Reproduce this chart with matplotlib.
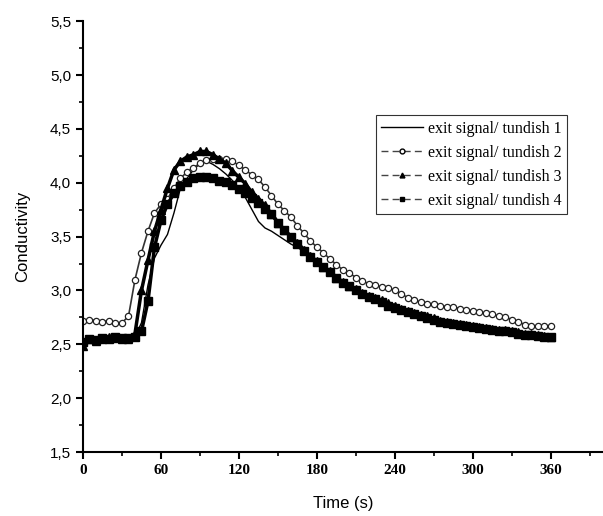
import numpy as np
import matplotlib
matplotlib.use("Agg")
from matplotlib import pyplot as plt
from matplotlib.ticker import MultipleLocator, FuncFormatter

# time axis, one reading every 5 s
time_s = np.arange(0, 361, 5)

tundish1 = [2.55, 2.54, 2.55, 2.56, 2.55, 2.56, 2.56, 2.57, 2.57, 2.70, 3.05, 3.30, 3.42, 3.52, 3.72,
            3.95, 4.04, 4.12, 4.18, 4.20, 4.17, 4.13, 4.08, 4.02, 3.95, 3.86, 3.75, 3.64, 3.58, 3.55,
            3.51, 3.47, 3.43, 3.40, 3.36, 3.31, 3.27, 3.22, 3.17, 3.12, 3.08, 3.04, 3.00, 2.97, 2.94,
            2.92, 2.90, 2.87, 2.85, 2.82, 2.80, 2.78, 2.76, 2.74, 2.73, 2.71, 2.70, 2.69, 2.68, 2.67,
            2.66, 2.65, 2.64, 2.63, 2.62, 2.62, 2.61, 2.60, 2.59, 2.59, 2.59, 2.58, 2.58]
tundish2 = [2.72, 2.73, 2.72, 2.71, 2.72, 2.70, 2.70, 2.76, 3.10, 3.35, 3.55, 3.72, 3.80, 3.85, 3.95,
            4.04, 4.10, 4.14, 4.18, 4.21, 4.22, 4.22, 4.22, 4.20, 4.16, 4.12, 4.07, 4.03, 3.96, 3.88,
            3.80, 3.74, 3.68, 3.60, 3.53, 3.46, 3.40, 3.35, 3.29, 3.24, 3.19, 3.16, 3.12, 3.09, 3.06,
            3.05, 3.03, 3.02, 3.00, 2.97, 2.93, 2.91, 2.89, 2.87, 2.87, 2.86, 2.85, 2.85, 2.83, 2.82,
            2.81, 2.80, 2.79, 2.78, 2.76, 2.75, 2.73, 2.71, 2.68, 2.67, 2.67, 2.67, 2.67]
tundish3 = [2.48, 2.55, 2.53, 2.55, 2.57, 2.56, 2.55, 2.55, 2.60, 3.00, 3.28, 3.55, 3.75, 3.95, 4.12,
            4.20, 4.24, 4.26, 4.29, 4.29, 4.26, 4.22, 4.18, 4.11, 4.05, 3.99, 3.91, 3.85, 3.79, 3.71,
            3.63, 3.56, 3.50, 3.44, 3.38, 3.32, 3.27, 3.22, 3.18, 3.12, 3.08, 3.04, 3.01, 2.98, 2.95,
            2.93, 2.91, 2.88, 2.86, 2.83, 2.81, 2.79, 2.77, 2.76, 2.74, 2.72, 2.71, 2.70, 2.69, 2.68,
            2.67, 2.66, 2.65, 2.64, 2.63, 2.63, 2.62, 2.61, 2.60, 2.60, 2.59, 2.58, 2.57]
tundish4 = [2.52, 2.55, 2.54, 2.56, 2.55, 2.57, 2.56, 2.56, 2.57, 2.62, 2.90, 3.40, 3.65, 3.80, 3.90,
            3.97, 4.01, 4.04, 4.05, 4.05, 4.04, 4.02, 4.01, 3.98, 3.94, 3.90, 3.86, 3.81, 3.76, 3.71,
            3.63, 3.56, 3.50, 3.43, 3.37, 3.31, 3.26, 3.22, 3.17, 3.12, 3.07, 3.04, 3.00, 2.97, 2.94,
            2.92, 2.89, 2.86, 2.84, 2.82, 2.80, 2.78, 2.76, 2.74, 2.73, 2.71, 2.70, 2.69, 2.68, 2.67,
            2.66, 2.65, 2.64, 2.63, 2.62, 2.62, 2.61, 2.60, 2.59, 2.59, 2.58, 2.57, 2.57]

labels = ["exit signal/ tundish 1", "exit signal/ tundish 2",
          "exit signal/ tundish 3", "exit signal/ tundish 4"]

fig = plt.figure(figsize=(6.03, 5.16), dpi=100)
ax = fig.add_axes([0.1376, 0.124, 0.8624, 0.835])

ax.plot(time_s, tundish1, "-", color="black", lw=1.0, label=labels[0])
ax.plot(time_s, tundish2, "-", color="#333333", lw=1.2, marker="o", ms=4.5,
        mfc="white", mec="#222222", mew=0.9, label=labels[1])
ax.plot(time_s, tundish3, "-", color="black", lw=2.5, marker="^", ms=6,
        mfc="black", mec="black", label=labels[2])
ax.plot(time_s, tundish4, "-", color="black", lw=2.5, marker="s", ms=5.5,
        mfc="black", mec="black", label=labels[3])

ax.set_xlim(0, 400)
ax.set_ylim(1.5, 5.5)
ax.spines["top"].set_visible(False)
ax.spines["right"].set_visible(False)
ax.spines["left"].set_linewidth(1.5)
ax.spines["bottom"].set_linewidth(1.5)

ax.xaxis.set_major_locator(MultipleLocator(60))
ax.xaxis.set_minor_locator(MultipleLocator(30))
ax.yaxis.set_major_locator(MultipleLocator(0.5))
ax.yaxis.set_minor_locator(MultipleLocator(0.25))
ax.yaxis.set_major_formatter(FuncFormatter(lambda v, p: ("%.1f" % v).replace(".", ",")))
ax.set_xticks([0, 60, 120, 180, 240, 300, 360])
ax.tick_params(which="major", direction="out", length=5, width=1.5)
ax.tick_params(which="minor", direction="out", length=3, width=1.2)
for t in ax.get_xticklabels():
    t.set_fontfamily("Liberation Serif")
    t.set_fontweight("bold")
    t.set_fontsize(11)
for t in ax.get_yticklabels():
    t.set_fontfamily("Liberation Sans")
    t.set_fontsize(11)

ax.set_xlabel("Time (s)", fontfamily="Liberation Sans", fontsize=12, labelpad=14)
ax.set_ylabel("Conductivity", fontfamily="Liberation Sans", fontsize=12, labelpad=14)

# legend keys drawn as dashed lines with small markers, like the original
from matplotlib.lines import Line2D
handles = [
    Line2D([], [], color="black", lw=1.0, ls="-"),
    Line2D([], [], color="#444444", lw=1.0, ls=(0, (5, 3)), marker="o", ms=3.5, mfc="white", mec="black"),
    Line2D([], [], color="#444444", lw=1.0, ls=(0, (5, 3)), marker="^", ms=3.5, mfc="black", mec="black"),
    Line2D([], [], color="#444444", lw=1.0, ls=(0, (5, 3)), marker="s", ms=3, mfc="black", mec="black"),
]
leg = ax.legend(handles, labels, loc="upper left", bbox_to_anchor=(0.563, 0.782), frameon=True,
                fancybox=False, edgecolor="black", handlelength=2.6,
                prop={"family": "Liberation Serif", "size": 11.5},
                labelspacing=0.5, borderpad=0.35, handletextpad=0.3, borderaxespad=0)
leg.get_frame().set_linewidth(0.8)

fig.savefig("out.png", dpi=100)
